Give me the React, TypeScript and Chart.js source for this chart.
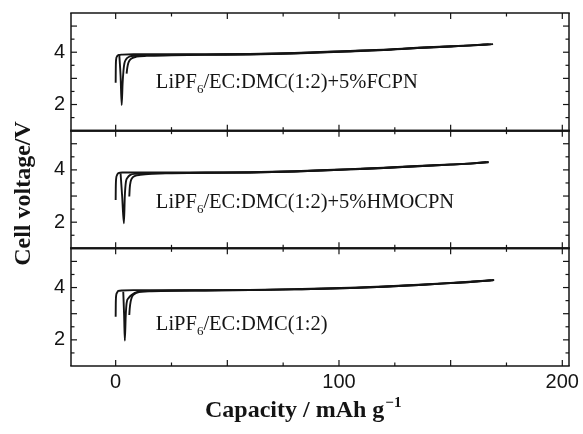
import { useEffect, useRef } from 'react';
import { Chart, registerables } from 'chart.js';

Chart.register(...registerables);

// ---- text / ticks ----
const panelIds = ['yTop', 'yMid', 'yBot'];
const saltMain = 'LiPF';
const saltSub = '6';
const panelSolvents = ['/EC:DMC(1:2)+5%FCPN', '/EC:DMC(1:2)+5%HMOCPN', '/EC:DMC(1:2)'];
const xTickLabels = [0, 100, 200];
const yTickLabels = [2, 4];
const xTickMarks = [0, 25, 50, 75, 100, 125, 150, 175, 200];
const yTickMarks = [1.5, 2, 2.5, 3, 3.5, 4, 4.5, 5];
const xTitle = 'Capacity / mAh g';
const xTitleSup = '\u22121';
const yTitle = 'Cell voltage/V';

// ---- data: top panel (+5% FCPN) ----
const fcpnCap1 = [0, 0.05, 0.2, 0.6, 1.2, 3, 8, 20, 40, 60, 80, 105, 120, 135, 150, 160, 167];
const fcpnV1 = [2.83, 3.35, 3.72, 3.84, 3.89, 3.91, 3.92, 3.92, 3.92, 3.93, 3.97, 4.05, 4.1, 4.17, 4.23, 4.27, 4.31];
const fcpnCap2 = [1.6, 2.2, 2.7, 3.1, 3.5, 3.9, 4.6, 6.1, 9, 15, 40, 60, 80, 105, 120, 135, 150, 160, 169];
const fcpnV2 = [3.93, 3.1, 1.98, 2.8, 3.3, 3.57, 3.72, 3.83, 3.87, 3.89, 3.91, 3.92, 3.96, 4.04, 4.09, 4.16, 4.22, 4.26, 4.31];
const fcpnCap3 = [4.9, 5.2, 5.6, 6.2, 7.1, 9.3, 14, 25, 40, 60, 80, 105, 120, 135, 150, 160, 168];
const fcpnV3 = [3.18, 3.4, 3.57, 3.68, 3.76, 3.83, 3.86, 3.88, 3.9, 3.91, 3.95, 4.03, 4.08, 4.16, 4.22, 4.26, 4.3];

// ---- data: middle panel (+5% HMOCPN) ----
const hmoCap1 = [0, 0.05, 0.2, 0.6, 1.2, 3, 8, 20, 40, 60, 80, 105, 120, 135, 150, 160, 166];
const hmoV1 = [2.85, 3.3, 3.65, 3.8, 3.88, 3.9, 3.9, 3.9, 3.9, 3.91, 3.95, 4.03, 4.08, 4.15, 4.21, 4.25, 4.3];
const hmoCap2 = [2.2, 2.9, 3.7, 4.1, 4.6, 5.3, 6.4, 9, 15, 40, 60, 80, 105, 120, 135, 150, 160, 167];
const hmoV2 = [3.86, 3.0, 1.96, 3.0, 3.55, 3.7, 3.8, 3.85, 3.87, 3.89, 3.9, 3.94, 4.02, 4.07, 4.14, 4.2, 4.25, 4.3];
const hmoCap3 = [6.1, 6.3, 6.7, 7.5, 8.7, 11, 16, 25, 40, 60, 80, 105, 120, 135, 150, 160, 167];
const hmoV3 = [2.98, 3.3, 3.55, 3.7, 3.77, 3.81, 3.85, 3.87, 3.89, 3.9, 3.94, 4.02, 4.07, 4.14, 4.2, 4.25, 4.29];

// ---- data: bottom panel (base electrolyte) ----
const baseCap1 = [0, 0.05, 0.2, 0.6, 1.2, 3, 8, 20, 40, 60, 80, 105, 120, 138, 150, 160, 168];
const baseV1 = [2.88, 3.35, 3.68, 3.8, 3.87, 3.89, 3.9, 3.9, 3.9, 3.91, 3.94, 3.99, 4.04, 4.12, 4.18, 4.23, 4.28];
const baseCap2 = [3.4, 3.8, 4.1, 4.5, 4.9, 5.8, 7.1, 10.1, 15, 40, 60, 80, 105, 120, 138, 150, 160, 169.5];
const baseV2 = [3.84, 2.9, 1.97, 2.9, 3.4, 3.6, 3.72, 3.84, 3.87, 3.89, 3.9, 3.93, 3.98, 4.03, 4.11, 4.17, 4.22, 4.29];
const baseCap3 = [6.1, 6.3, 6.7, 7.2, 7.9, 10.9, 16, 25, 40, 60, 80, 105, 120, 138, 150, 160, 169];
const baseV3 = [2.95, 3.2, 3.46, 3.62, 3.72, 3.84, 3.86, 3.88, 3.89, 3.9, 3.93, 3.98, 4.03, 4.11, 4.17, 4.22, 4.28];

// annotation anchor (capacity, voltage) per panel
const labelCap = 18;
const labelVolt = [2.63, 2.54, 2.38];

const INK = '#141414';

function toPoints(cap: number[], v: number[]) {
  return cap.map((x, i) => ({ x, y: v[i] }));
}

const panelCurves = [
  [[fcpnCap1, fcpnV1], [fcpnCap2, fcpnV2], [fcpnCap3, fcpnV3]],
  [[hmoCap1, hmoV1], [hmoCap2, hmoV2], [hmoCap3, hmoV3]],
  [[baseCap1, baseV1], [baseCap2, baseV2], [baseCap3, baseV3]],
];

const framePlugin = {
  id: 'framePlugin',
  afterDraw(chart: any) {
    const ctx = chart.ctx as CanvasRenderingContext2D;
    const xs = chart.scales.x;
    const area = chart.chartArea;
    const left = area.left;
    const right = area.right;
    const seg = (x1: number, y1: number, x2: number, y2: number) => {
      ctx.beginPath();
      ctx.moveTo(x1, y1);
      ctx.lineTo(x2, y2);
      ctx.stroke();
    };
    ctx.save();
    ctx.strokeStyle = INK;
    ctx.fillStyle = INK;
    panelIds.forEach((id, p) => {
      const ys = chart.scales[id];
      const top = ys.top;
      const bottom = ys.bottom;
      ctx.lineWidth = 1.5;
      seg(left, top, left, bottom);
      seg(right, top, right, bottom);
      ctx.lineWidth = p === 0 ? 1.5 : 2;
      seg(left - 0.75, top, right + 0.75, top);
      ctx.lineWidth = p === 2 ? 1.5 : 2;
      seg(left - 0.75, bottom, right + 0.75, bottom);
      ctx.lineWidth = 1.2;
      yTickMarks.forEach((v) => {
        const y = ys.getPixelForValue(v);
        const len = Number.isInteger(v) ? 6 : 3.5;
        seg(left, y, left + len, y);
        seg(right, y, right - len, y);
      });
      xTickMarks.forEach((v) => {
        const x = xs.getPixelForValue(v);
        const len = v % 50 === 0 ? 6 : 3.5;
        seg(x, top, x, top + len);
        seg(x, bottom, x, bottom - len);
      });
      // y tick labels
      ctx.font = '20px "Liberation Sans", Arial, sans-serif';
      ctx.textAlign = 'right';
      ctx.textBaseline = 'middle';
      yTickLabels.forEach((v) => {
        ctx.fillText(String(v), left - 6, ys.getPixelForValue(v));
      });
      // panel annotation
      const x0 = xs.getPixelForValue(labelCap);
      const yb = ys.getPixelForValue(labelVolt[p]);
      ctx.textAlign = 'left';
      ctx.textBaseline = 'alphabetic';
      ctx.font = '20.5px "Liberation Serif", "Times New Roman", serif';
      ctx.fillText(saltMain, x0, yb);
      const w1 = ctx.measureText(saltMain).width;
      ctx.font = '13px "Liberation Serif", "Times New Roman", serif';
      ctx.fillText(saltSub, x0 + w1, yb + 5);
      const w2 = ctx.measureText(saltSub).width;
      ctx.font = '20.5px "Liberation Serif", "Times New Roman", serif';
      ctx.fillText(panelSolvents[p], x0 + w1 + w2, yb);
    });
    // x tick labels
    ctx.font = '20px "Liberation Sans", Arial, sans-serif';
    ctx.textAlign = 'center';
    ctx.textBaseline = 'top';
    xTickLabels.forEach((v) => {
      ctx.fillText(String(v), xs.getPixelForValue(v), area.bottom + 6);
    });
    // x title
    ctx.textAlign = 'left';
    ctx.textBaseline = 'alphabetic';
    ctx.font = 'bold 24px "Liberation Serif", "Times New Roman", serif';
    const tx = 205;
    const ty = 417;
    ctx.fillText(xTitle, tx, ty);
    const tw = ctx.measureText(xTitle).width;
    ctx.font = 'bold 15px "Liberation Serif", "Times New Roman", serif';
    ctx.fillText(xTitleSup, tx + tw + 1, ty - 10);
    // y title
    ctx.save();
    ctx.translate(24, (area.top + area.bottom) / 2 + 4);
    ctx.rotate(-Math.PI / 2);
    ctx.textAlign = 'center';
    ctx.textBaseline = 'middle';
    ctx.font = 'bold 24px "Liberation Serif", "Times New Roman", serif';
    ctx.fillText(yTitle, 0, 0);
    ctx.restore();
    ctx.restore();
  },
};

export default function App() {
  const canvasRef = useRef<HTMLCanvasElement | null>(null);

  useEffect(() => {
    const canvas = canvasRef.current;
    if (!canvas) return;
    const datasets: any[] = [];
    panelCurves.forEach((curves, p) => {
      curves.forEach(([cap, v], c) => {
        datasets.push({
          label: `${panelIds[p]}-${c}`,
          data: toPoints(cap, v),
          yAxisID: panelIds[p],
          xAxisID: 'x',
          borderColor: INK,
          borderWidth: 1.9,
          pointRadius: 0,
          fill: false,
          cubicInterpolationMode: 'monotone',
        });
      });
    });
    const yScale = (weight: number) => ({
      type: 'linear',
      position: 'left',
      stack: 'volt',
      stackWeight: 1,
      weight,
      min: 1,
      max: 5.5,
      grid: { display: false, drawTicks: false },
      border: { display: false },
      ticks: { display: false },
      afterFit: (s: any) => {
        s.width = 71;
      },
    });
    const chart = new Chart(canvas, {
      type: 'line',
      data: { datasets },
      plugins: [framePlugin],
      options: {
        responsive: false,
        animation: false,
        parsing: false,
        layout: { padding: { top: 13, right: 14, left: 0, bottom: 0 } },
        plugins: { legend: { display: false }, tooltip: { enabled: false } },
        scales: {
          x: {
            type: 'linear',
            position: 'bottom',
            min: -20,
            max: 203,
            grid: { display: false, drawTicks: false },
            border: { display: false },
            ticks: { display: false },
            afterFit: (s: any) => {
              s.height = 68;
            },
          },
          yTop: yScale(3),
          yMid: yScale(2),
          yBot: yScale(1),
        } as any,
      },
    } as any);
    return () => chart.destroy();
  }, []);

  return (
    <div style={{ position: 'fixed', left: 0, top: 0, width: 583, height: 434, background: '#fff' }}>
      <canvas ref={canvasRef} width={583} height={434} style={{ display: 'block' }} />
    </div>
  );
}
